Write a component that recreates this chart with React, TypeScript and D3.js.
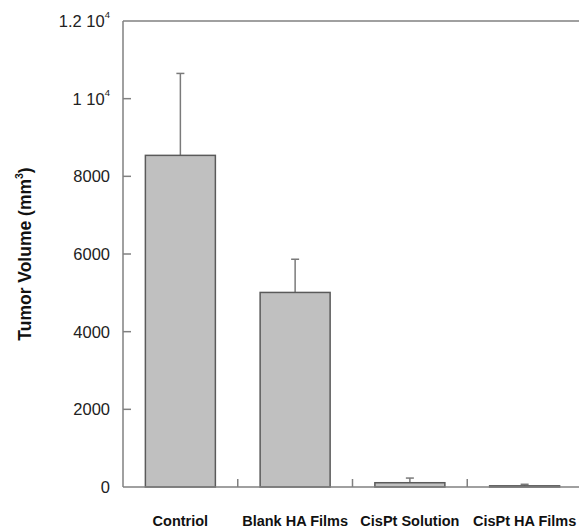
import React from "react";
import * as d3 from "d3";

const categories = ["Contriol", "Blank HA Films", "CisPt Solution", "CisPt HA Films"];
const means = [8540, 5010, 110, 30];
const errUpper = [10650, 5865, 230, 70];
const yTicks = [0, 2000, 4000, 6000, 8000, 10000, 12000];

const width = 579;
const height = 531;
const margin = { top: 21, right: -3, bottom: 44, left: 123 };

const fmt = (v: number) => {
  if (v === 10000) return { main: "1 10", sup: "4" };
  if (v === 12000) return { main: "1.2 10", sup: "4" };
  return { main: String(v), sup: null };
};

export default function App() {
  const x = d3
    .scaleBand<string>()
    .domain(categories)
    .range([margin.left, width - margin.right])
    .paddingInner(0)
    .paddingOuter(0);
  const y = d3
    .scaleLinear()
    .domain([0, 12000])
    .range([height - margin.bottom, margin.top]);

  const barW = x.bandwidth() * 0.61;
  const axisColor = "#808080";
  const font = "Liberation Sans, Arial, Helvetica, sans-serif";

  return (
    <svg
      width={width}
      height={height}
      style={{ position: "absolute", left: 0, top: 0, background: "#fff" }}
      fontFamily={font}
    >
      {/* bars */}
      {categories.map((c, i) => {
        const cx = x(c)! + x.bandwidth() / 2;
        return (
          <g key={c}>
            <line
              x1={cx}
              x2={cx}
              y1={y(means[i])}
              y2={y(errUpper[i])}
              stroke="#7a7a7a"
              strokeWidth={1.5}
            />
            <line
              x1={cx - 4}
              x2={cx + 4}
              y1={y(errUpper[i])}
              y2={y(errUpper[i])}
              stroke="#7a7a7a"
              strokeWidth={1.5}
            />
            <rect
              x={cx - barW / 2}
              y={y(means[i])}
              width={barW}
              height={y(0) - y(means[i])}
              fill="#c0c0c0"
              stroke="#5a5a5a"
              strokeWidth={1.5}
            />
          </g>
        );
      })}

      {/* frame */}
      <line x1={margin.left} x2={width} y1={y(12000)} y2={y(12000)} stroke={axisColor} strokeWidth={1.5} />
      <line x1={margin.left} x2={width} y1={y(0)} y2={y(0)} stroke={axisColor} strokeWidth={1.5} />
      <line x1={margin.left} x2={margin.left} y1={y(12000)} y2={y(0)} stroke={axisColor} strokeWidth={1.5} />

      {/* y ticks */}
      {yTicks.map((t) => {
        const f = fmt(t);
        return (
          <g key={t}>
            {t !== 0 && t !== 12000 && (
              <line x1={margin.left} x2={margin.left + 8} y1={y(t)} y2={y(t)} stroke={axisColor} strokeWidth={1.5} />
            )}
            <text x={110} y={y(t)} dy="0.36em" textAnchor="end" fontSize={16.5} fill="#222">
              {f.main}
              {f.sup && (
                <tspan fontSize={9.5} dy="-0.95em">
                  {f.sup}
                </tspan>
              )}
            </text>
          </g>
        );
      })}

      {/* category dividers */}
      {categories.slice(1).map((c) => (
        <line key={c} x1={x(c)} x2={x(c)} y1={y(0)} y2={y(0) - 8} stroke={axisColor} strokeWidth={1.5} />
      ))}

      {/* x labels */}
      {categories.map((c) => (
        <text
          key={c}
          x={x(c)! + x.bandwidth() / 2}
          y={526}
          textAnchor="middle"
          fontSize={14.5}
          fontWeight="bold"
          fill="#111"
        >
          {c}
        </text>
      ))}

      {/* y label */}
      <text
        transform={`translate(31,254) rotate(-90)`}
        textAnchor="middle"
        fontSize={17.5}
        fontWeight="bold"
        fill="#111"
      >
        Tumor Volume (mm
        <tspan fontSize={10.5} dy="-0.8em">3</tspan>
        <tspan dy="0.5em">)</tspan>
      </text>
    </svg>
  );
}
